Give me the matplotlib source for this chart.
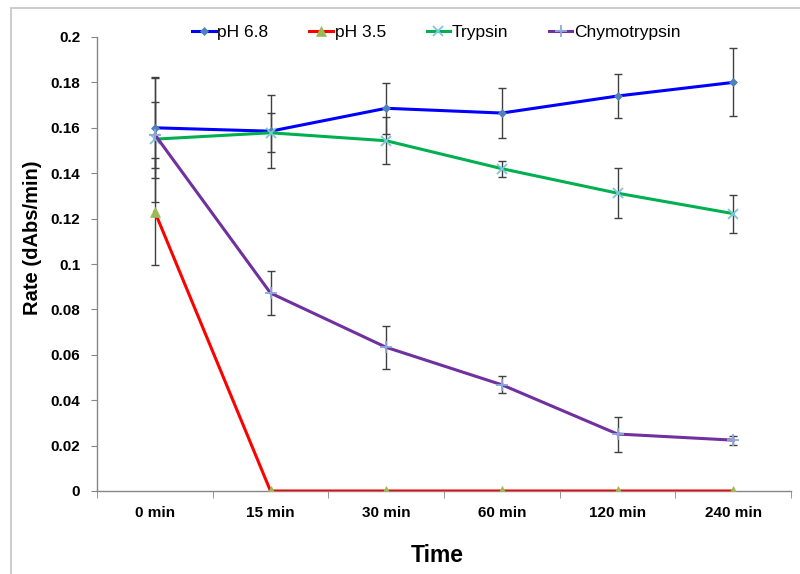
import numpy as np
import matplotlib
matplotlib.use('Agg')
import matplotlib.pyplot as plt
from matplotlib.patches import Rectangle

plt.rcParams['font.family'] = ['Liberation Sans', 'DejaVu Sans']

# 数据
times = ['0 min', '15 min', '30 min', '60 min', '120 min', '240 min']
ph68 = [0.160, 0.1585, 0.1686, 0.1665, 0.174, 0.1800]
ph68_err = [0.022, 0.016, 0.0113, 0.011, 0.0097, 0.015]
ph35 = [0.123, 0, 0, 0, 0, 0]
ph35_err = [0.0235, 0, 0, 0, 0, 0]
trypsin = [0.155, 0.1578, 0.1543, 0.1420, 0.1312, 0.1222]
trypsin_err = [0.0275, 0.0085, 0.0103, 0.0035, 0.011, 0.0084]
chymo = [0.157, 0.0872, 0.0633, 0.0468, 0.0251, 0.0224]
chymo_err = [0.0145, 0.0095, 0.0095, 0.0037, 0.0077, 0.002]

series = [
    ('pH 6.8', ph68, ph68_err, '#0000FF', 'D', '#4F81BD', 4.5),
    ('pH 3.5', ph35, ph35_err, '#FF0000', '^', '#9BBB59', 6.5),
    ('Trypsin', trypsin, trypsin_err, '#00B050', 'x', '#7FC6DA', 6.5),
    ('Chymotrypsin', chymo, chymo_err, '#7030A0', '+', '#8EA9DB', 8),
]

fig = plt.figure(figsize=(8, 5.74), dpi=100)
ax = fig.add_axes([97 / 800, 1 - 491 / 574, 694 / 800, 454 / 574])

# 外框
fig.patches.append(Rectangle((11 / 800, -0.1), 1.0, 1 - 8 / 574 + 0.1, transform=fig.transFigure,
                             fill=False, edgecolor='#C4C4C4', linewidth=1.2))

x = np.arange(len(times))
handles = []
for name, vals, err, lc, mk, mc, ms in series:
    e = np.array(err)
    mask = e > 0
    ax.errorbar(x[mask], np.array(vals)[mask], yerr=e[mask], fmt='none', ecolor='#404040',
                elinewidth=1.0, capsize=2.8, capthick=1.0, zorder=2)
    h, = ax.plot(x, vals, color=lc, linewidth=2.2, marker=mk, markersize=ms,
                 markerfacecolor=mc, markeredgecolor=mc, markeredgewidth=1.3 if mk in 'x+' else 0.5,
                 label=name, zorder=3)
    handles.append(h)

# 坐标轴
ax.set_xlim(-0.5, 5.5)
ax.set_ylim(0, 0.2)
ax.set_yticks(np.arange(0, 0.201, 0.02))
ax.set_yticklabels(['0'] + ['%g' % v for v in np.arange(0.02, 0.201, 0.02)])
ax.set_xticks(x)
ax.set_xticklabels(times)
ax.set_xticks(np.arange(-0.5, 5.6, 1), minor=True)
ax.tick_params(axis='x', which='major', length=0, pad=11)
ax.tick_params(axis='x', which='minor', length=5, color='#868686', direction='out')
ax.tick_params(axis='y', length=4, color='#868686', direction='out', pad=8)
for lab in ax.get_xticklabels() + ax.get_yticklabels():
    lab.set_fontweight('bold')
    lab.set_fontsize(11)

for s in ['top', 'right']:
    ax.spines[s].set_visible(False)
for s in ['left', 'bottom']:
    ax.spines[s].set_color('#868686')
    ax.spines[s].set_linewidth(1.0)

ax.set_ylabel('Rate (dAbs/min)', fontsize=14.5, fontweight='bold')
ax.yaxis.set_label_coords(-0.079, 0.558)
ax.set_xlabel('Time', fontsize=16.5, fontweight='bold')
ax.xaxis.set_label_coords(0.49, -0.117)

fig.legend(handles=handles, loc='center', bbox_to_anchor=(436.5 / 800, 1 - 32 / 574), ncol=4,
           frameon=False, fontsize=12.5, handlelength=1.35, handletextpad=0.1,
           columnspacing=2.35, borderaxespad=0)

fig.savefig('out.png', dpi=100)
